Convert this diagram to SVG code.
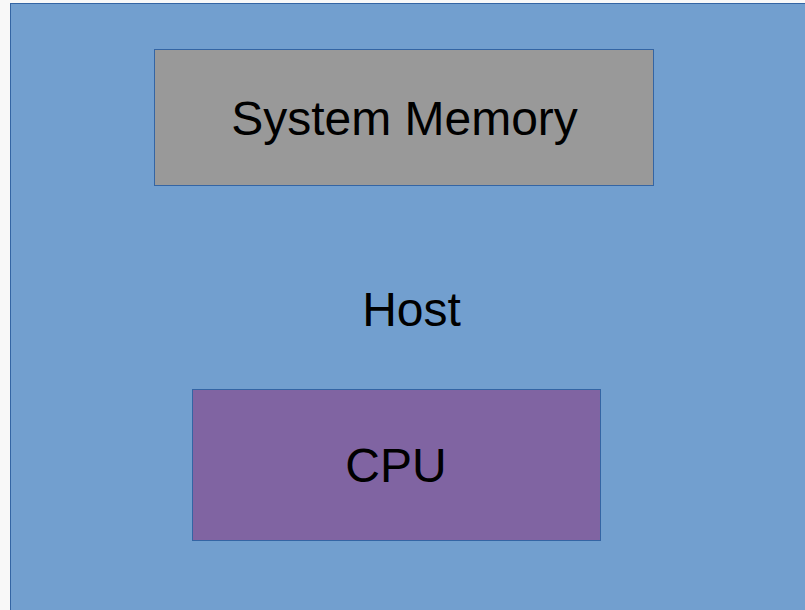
<svg xmlns="http://www.w3.org/2000/svg" width="805" height="610" viewBox="0 0 805 610">
<style>
.box{stroke:#3465a4;stroke-width:1}
.t{font-family:"Liberation Sans",Arial,sans-serif;font-size:48px;fill:#000;text-anchor:middle}
</style>
<rect x="0" y="0" width="805" height="610" fill="#f8f8f8"/>
<g id="host">
<rect class="box" x="10.5" y="3.5" width="800" height="620" fill="#729fcf"/>
<text class="t" x="411.5" y="326">Host</text>
</g>
<g id="memory">
<rect class="box" x="154.5" y="49.5" width="499" height="136" fill="#999999"/>
<text class="t" x="404.5" y="135">System Memory</text>
</g>
<g id="cpu">
<rect class="box" x="192.5" y="389.5" width="408" height="151" fill="#8064a2"/>
<text class="t" x="396" y="482">CPU</text>
</g>
<g id="connectors"/>
</svg>
